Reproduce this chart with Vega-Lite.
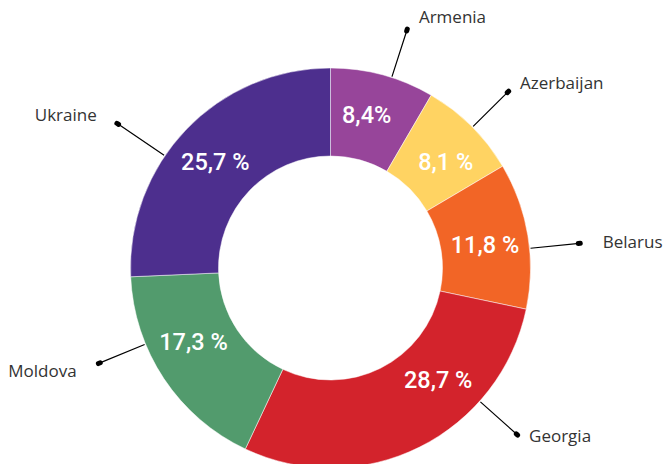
{
  "$schema": "https://vega.github.io/schema/vega-lite/v6.json",
  "autosize": "none",
  "width": 661,
  "height": 392,
  "padding": {"left": 0, "top": 72, "right": 9, "bottom": 0},
  "background": "white",
  "config": {"view": {"stroke": null}},
  "data": {
    "values": [
      {"country": "Armenia", "value": 8.4, "label": "8,4%"},
      {"country": "Azerbaijan", "value": 8.1, "label": "8,1 %"},
      {"country": "Belarus", "value": 11.8, "label": "11,8 %"},
      {"country": "Georgia", "value": 28.7, "label": "28,7 %"},
      {"country": "Moldova", "value": 17.3, "label": "17,3 %"},
      {"country": "Ukraine", "value": 25.7, "label": "25,7 %"}
    ]
  },
  "encoding": {
    "theta": {"field": "value", "type": "quantitative", "stack": true},
    "order": {"field": "country", "type": "nominal"}
  },
  "layer": [
    {
      "mark": {"type": "arc", "innerRadius": 112, "outerRadius": 200, "stroke": "#ffffff", "strokeWidth": 0.5},
      "encoding": {
        "color": {
          "field": "country",
          "type": "nominal",
          "legend": null,
          "scale": {
            "domain": ["Armenia", "Azerbaijan", "Belarus", "Georgia", "Moldova", "Ukraine"],
            "range": ["#97459A", "#FFD362", "#F26526", "#D3232C", "#529B6D", "#4D2F8E"]
          }
        }
      }
    },
    {
      "mark": {
        "type": "arc", "innerRadius": 201, "outerRadius": {"expr": "datum.country == 'Ukraine' ? 257 : 250"}, "padAngle": 3,
        "fill": "transparent", "stroke": "#000000", "strokeWidth": 1.2,
        "thetaOffset": {"expr": "datum.country == 'Armenia' ? 0.047 : datum.country == 'Azerbaijan' ? 0.007 : datum.country == 'Belarus' ? 0.065 : datum.country == 'Georgia' ? -0.38 : datum.country == 'Moldova' ? 0.197 : -0.168"}
      },
      "encoding": {"detail": {"field": "country", "type": "nominal"}}
    },
    {
      "mark": {
        "type": "arc", "innerRadius": {"expr": "datum.country == 'Ukraine' ? 256 : 249"}, "outerRadius": {"expr": "datum.country == 'Ukraine' ? 258 : 251"}, "padAngle": 3,
        "fill": "transparent", "stroke": "#000000", "strokeWidth": 5, "strokeCap": "round", "strokeJoin": "round",
        "thetaOffset": {"expr": "datum.country == 'Armenia' ? 0.047 : datum.country == 'Azerbaijan' ? 0.007 : datum.country == 'Belarus' ? 0.065 : datum.country == 'Georgia' ? -0.38 : datum.country == 'Moldova' ? 0.197 : -0.168"}
      },
      "encoding": {"detail": {"field": "country", "type": "nominal"}}
    },
    {
      "mark": {
        "type": "text", "radius": 156, "align": "center", "baseline": "middle",
        "font": "Roboto", "fontSize": 23.5, "fontWeight": 500, "color": "#ffffff",
        "thetaOffset": {"expr": "datum.country == 'Armenia' ? -0.03 : datum.country == 'Azerbaijan' ? 0.049 : datum.country == 'Belarus' ? 0.024 : datum.country == 'Georgia' ? -0.30 : datum.country == 'Moldova' ? 0.089 : -0.023"}
      },
      "encoding": {
        "detail": {"field": "country", "type": "nominal"},
        "text": {"field": "label", "type": "nominal"}
      }
    },
    {
      "mark": {
        "type": "text", "radius": 262, "baseline": "middle",
        "font": "Open Sans", "fontSize": 17, "fontWeight": 400, "color": "#333333",
        "align": {"expr": "datum.country == 'Moldova' || datum.country == 'Ukraine' ? 'right' : 'left'"},
        "dx": {"expr": "datum.country == 'Moldova' || datum.country == 'Ukraine' ? -10 : 10"},
        "radiusOffset": {"expr": "datum.country == 'Azerbaijan' ? -5 : datum.country == 'Belarus' ? 1.5 : datum.country == 'Georgia' ? -9 : datum.country == 'Moldova' ? 3 : datum.country == 'Ukraine' ? 8.5 : 0"},
        "thetaOffset": {"expr": "datum.country == 'Armenia' ? 0.040 : datum.country == 'Azerbaijan' ? -0.009 : datum.country == 'Belarus' ? 0.068 : datum.country == 'Georgia' ? -0.379 : datum.country == 'Moldova' ? 0.185 : -0.1665"}
      },
      "encoding": {
        "detail": {"field": "country", "type": "nominal"},
        "text": {"field": "country", "type": "nominal"}
      }
    }
  ]
}
